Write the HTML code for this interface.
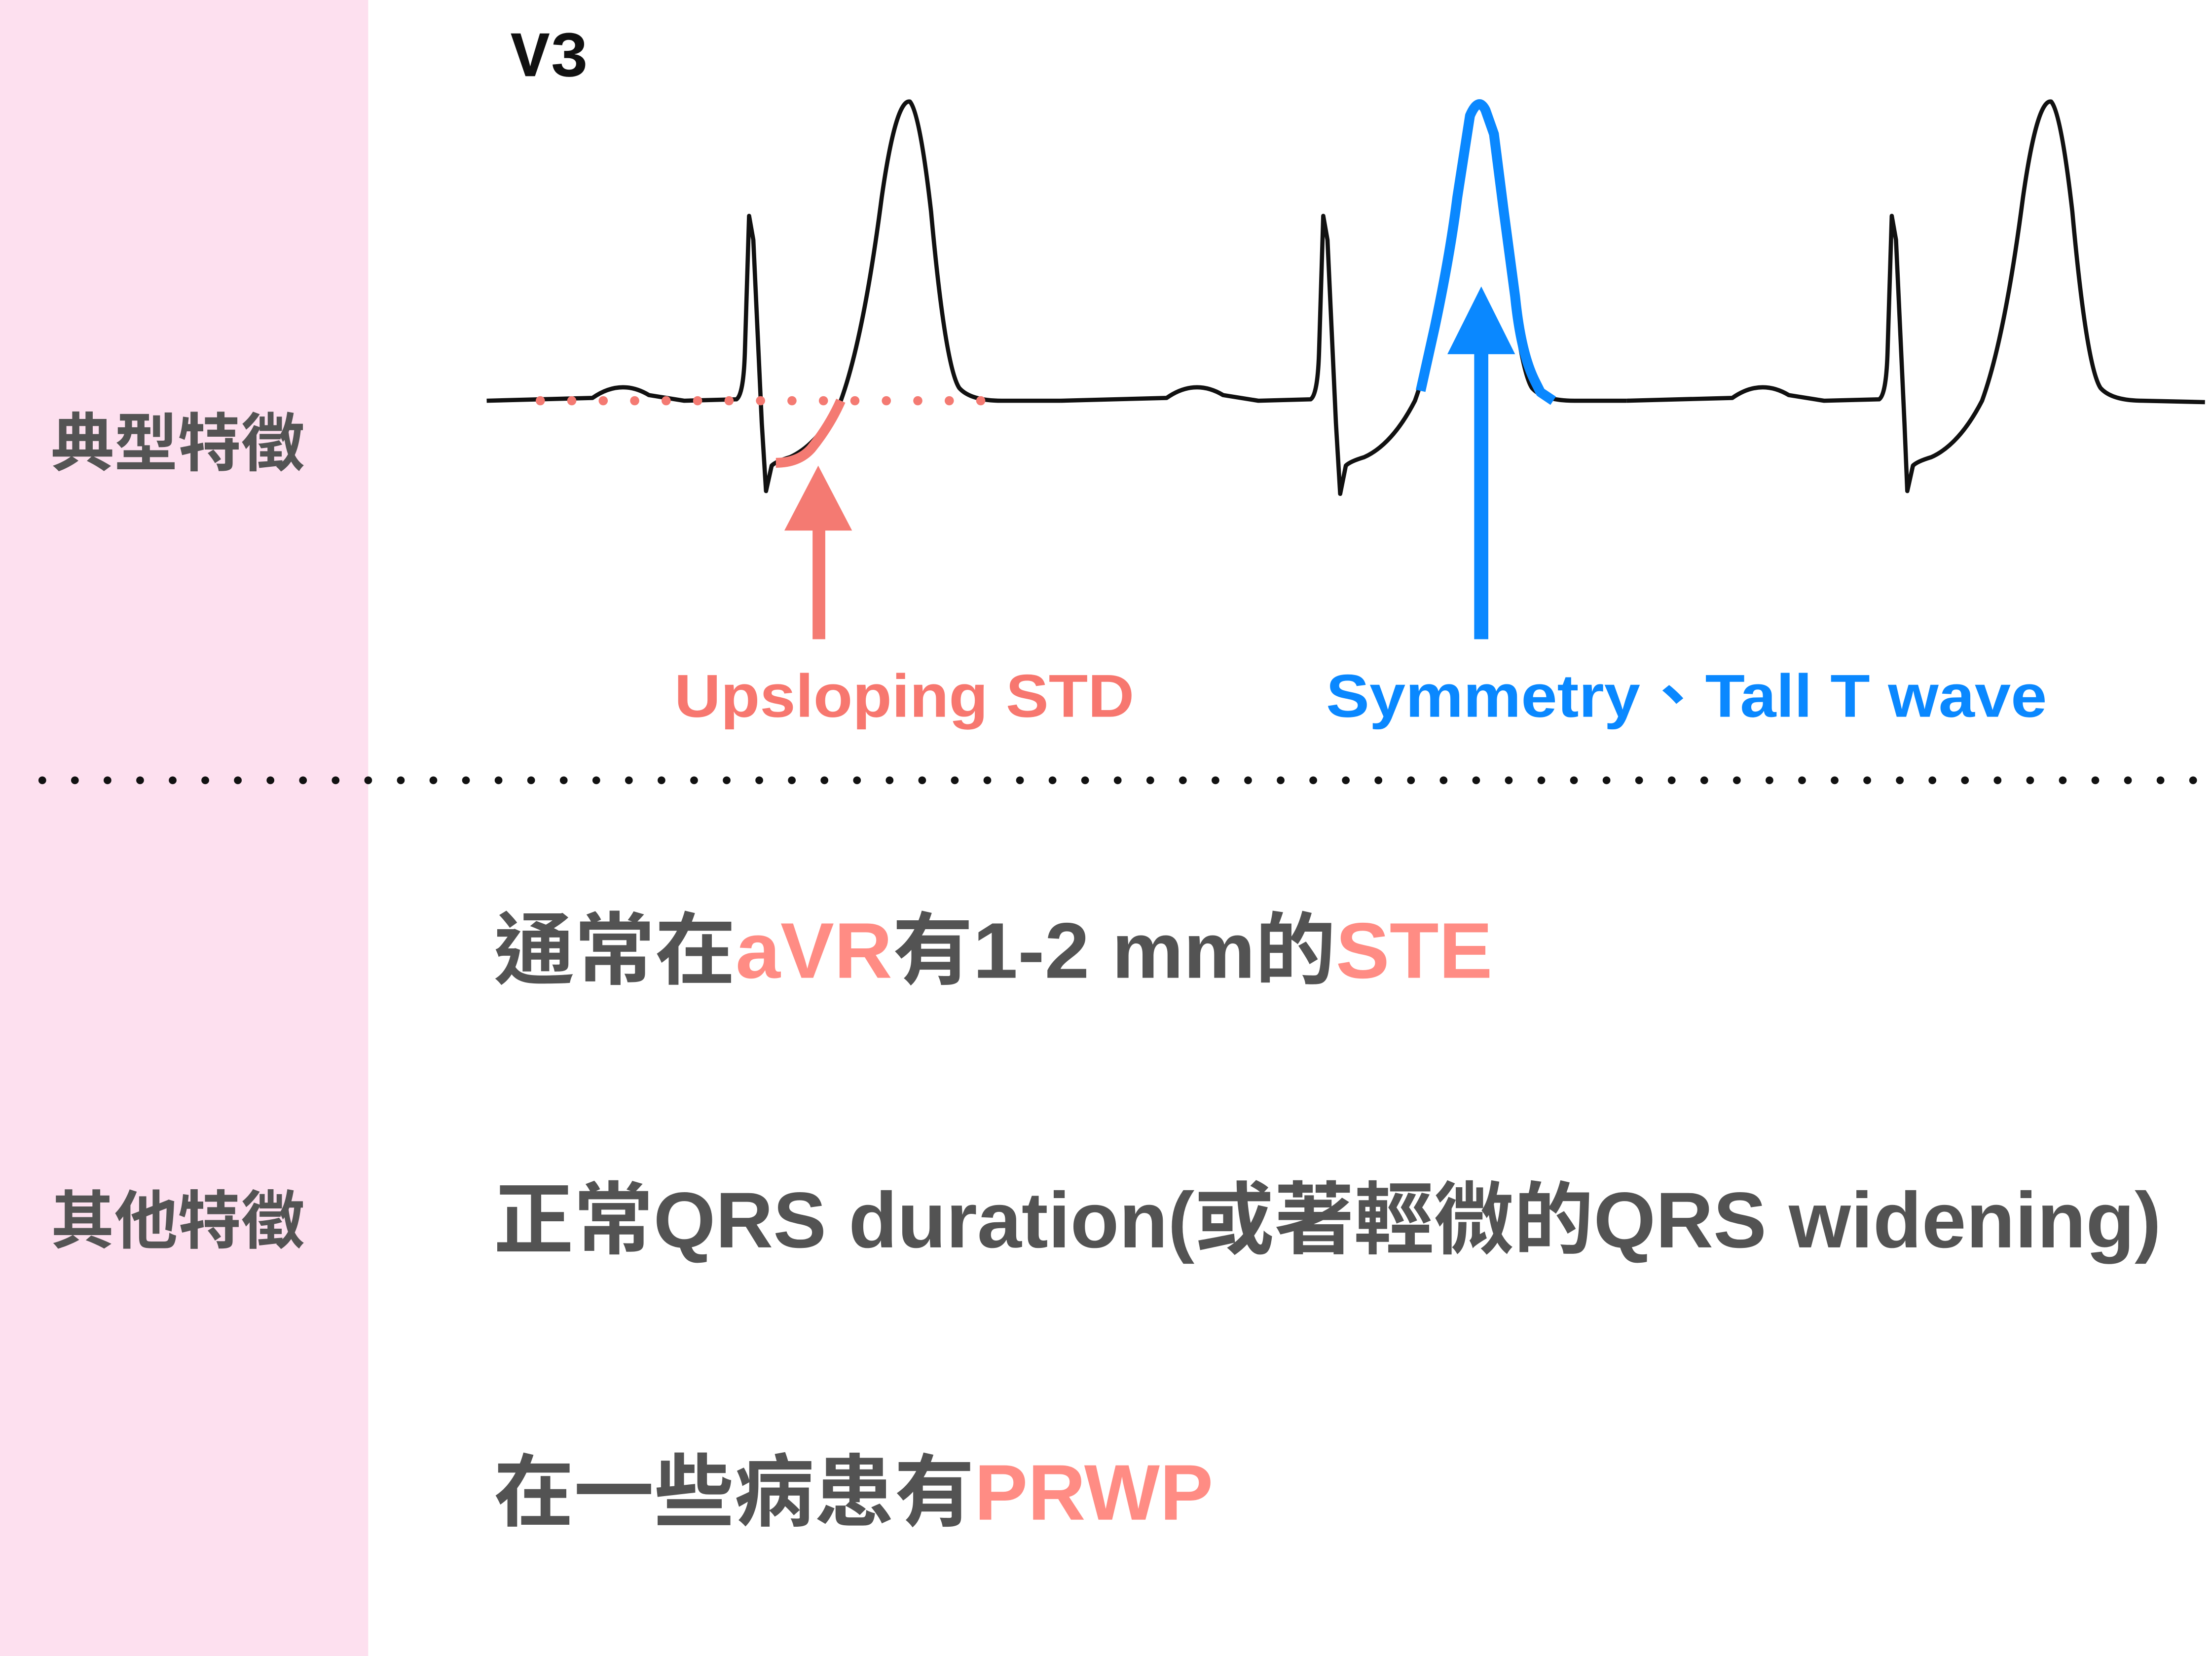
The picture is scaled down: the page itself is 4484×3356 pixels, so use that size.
<!DOCTYPE html>
<html><head><meta charset="utf-8"><style>
html,body{margin:0;padding:0;background:#fff;}
svg{display:block;}
text{font-family:"Liberation Sans","Noto Sans CJK TC",sans-serif;font-weight:bold;}
</style></head><body>
<svg width="4484" height="3356" viewBox="0 0 1568 1173.6" preserveAspectRatio="none" xmlns="http://www.w3.org/2000/svg">
<rect x="0" y="0" width="1568" height="1174" fill="#fff"/>
<rect x="0" y="0" width="261" height="1174" fill="#fde0ef"/>
<text x="362" y="54" font-size="46" fill="#111" style="font-family:'Liberation Mono',monospace;font-weight:bold">V3</text>
<text x="36" y="330" font-size="45" fill="#545454">典型特徵</text>
<text x="36" y="881" font-size="45" fill="#545454">其他特徵</text>
<g fill="none" stroke="#111" stroke-width="3" stroke-linejoin="round">
<path d="M345,284 L420,282 Q440,268 460,280 L485,284 L522,283 Q527,280 528,250 L531,153 L534,170 L540,300 L543,348 L547,330 Q550,327 560,324 Q580,315 596,284 Q612,240 625,140 Q635,70 645,72 Q652,80 660,150 Q670,260 680,275 Q688,284 710,284 L752,284"/>
<path d="M752,284 L827,282 Q847,268 867,280 L892,284 L929,283 Q934,280 935,250 L938,153 L941,170 L947,300 L950,350 L954,330 Q957,327 967,324 Q987,315 1003,284 Q1019,240 1032,140 Q1042,70 1050,72 Q1057,80 1066,150 Q1076,260 1086,275 Q1094,284 1116,284 L1153,284"/>
<path d="M1153,284 L1228,282 Q1248,268 1268,280 L1293,284 L1332,283 Q1337,280 1338,250 L1341,153 L1344,170 L1350,300 L1352,348 L1356,330 Q1359,327 1369,324 Q1389,315 1405,284 Q1421,240 1434,140 Q1444,70 1454,72 Q1461,80 1469,150 Q1479,260 1489,275 Q1497,284 1519,284 L1563,285"/>
</g>
<line x1="383" y1="284" x2="710" y2="284" stroke="#f47a72" stroke-width="6.5" stroke-linecap="round" stroke-dasharray="0 22.3"/>
<path d="M550,328 Q566,328 575,318 Q588,302 596,284" fill="none" stroke="#f47a72" stroke-width="7"/>
<rect x="576" y="374" width="9" height="79" fill="#f47a72"/>
<polygon points="556,376 604,376 580,330" fill="#f47a72"/>
<path d="M1007,277 L1017,232 Q1028,180 1033,140 L1042,82 Q1048,68 1053,78 L1059,95 L1066,150 L1074,210 Q1078,250 1088,270 L1092,278 L1101,284" fill="none" stroke="#0a88ff" stroke-width="7" stroke-linejoin="round"/>
<rect x="1045" y="249" width="10" height="204" fill="#0a88ff"/>
<polygon points="1026,251 1074,251 1050,203" fill="#0a88ff"/>
<text x="478" y="508" font-size="43" fill="#f7776f" textLength="326" lengthAdjust="spacingAndGlyphs">Upsloping STD</text>
<text x="940" y="508" font-size="43" fill="#0a88ff" textLength="511" lengthAdjust="spacingAndGlyphs">Symmetry、Tall T wave</text>
<line x1="30" y1="553" x2="1565" y2="553" stroke="#111" stroke-width="5.5" stroke-linecap="round" stroke-dasharray="0 23.1"/>
<text x="350" y="693" font-size="56" fill="#535353" textLength="708" lengthAdjust="spacingAndGlyphs">通常在<tspan fill="#ff8c84">aVR</tspan>有1-2 mm的<tspan fill="#ff8c84">STE</tspan></text>
<text x="350" y="884" font-size="56" fill="#535353" textLength="1182" lengthAdjust="spacingAndGlyphs">正常QRS duration(或著輕微的QRS widening)</text>
<text x="350" y="1077" font-size="56" fill="#535353" textLength="510" lengthAdjust="spacingAndGlyphs">在一些病患有<tspan fill="#ff8c84">PRWP</tspan></text>
</svg>
</body></html>
